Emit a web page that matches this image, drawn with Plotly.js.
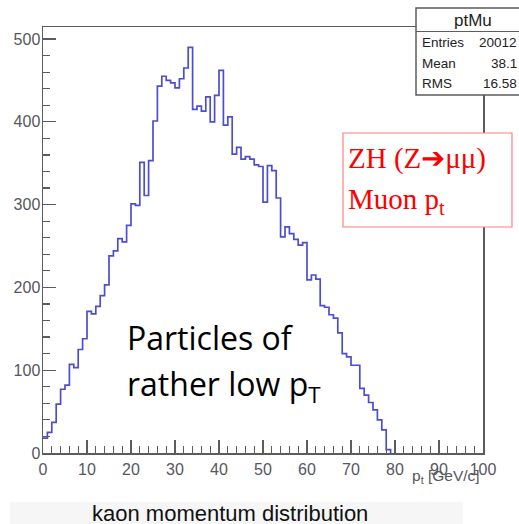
<!DOCTYPE html>
<html>
<head>
<meta charset="utf-8">
<script src="https://cdn.plot.ly/plotly-3.0.1.min.js"></script>
<style>
  html, body { margin: 0; padding: 0; background: #ffffff; }
  #chart { width: 519px; height: 524px; }
</style>
</head>
<body>
<div id="chart"></div>
<script>
// Muon transverse momentum histogram, 1 GeV/c bins (low edges) and counts
const binLowEdges = [
   0,  1,  2,  3,  4,  5,  6,  7,  8,  9,
  10, 11, 12, 13, 14, 15, 16, 17, 18, 19,
  20, 21, 22, 23, 24, 25, 26, 27, 28, 29,
  30, 31, 32, 33, 34, 35, 36, 37, 38, 39,
  40, 41, 42, 43, 44, 45, 46, 47, 48, 49,
  50, 51, 52, 53, 54, 55, 56, 57, 58, 59,
  60, 61, 62, 63, 64, 65, 66, 67, 68, 69,
  70, 71, 72, 73, 74, 75, 76, 77, 78, 79
];
const binCounts = [
   18,  25,  37,  59,  77,  82, 107, 103, 125, 138,
  171, 168, 177, 190, 203, 238, 244, 259, 255, 275,
  301, 299, 351, 311, 353, 401, 443, 455, 450, 447,
  441, 452, 465, 490, 415, 419, 413, 430, 400, 432,
  462, 396, 406, 361, 369, 355, 358, 355, 348, 346,
  303, 347, 341, 308, 261, 273, 265, 258, 251, 254,
  209, 215, 210, 178, 176, 167, 163, 145, 120, 116,
  106, 106,  78,  70,  61,  52,  40,  28,   4,   0
];

// Statistics box
const statsTitle = 'ptMu';
const statsNames = ['Entries', 'Mean', 'RMS'];
const statsValues = ['20012', '38.1', '16.58'];

// Tick labels
const xTickVals = [0, 10, 20, 30, 40, 50, 60, 70, 80, 90, 100];
const yTickVals = [0, 100, 200, 300, 400, 500];

// Text on the figure
const xAxisTitle = 'p<sub>t</sub> [GeV/c]';
const boxLines = ['ZH (Z\u2794\u03bc\u03bc)', 'Muon p<sub>t</sub>'];
const noteLines = ['Particles of', 'rather low p<sub>T</sub>'];
const caption = 'kaon momentum distribution';

// plot frame in pixels
const W = 519, H = 524;
const L = 43, R = 483, T = 27, B = 453;
const px = x => (x - L) / (R - L);
const py = y => (B - y) / (B - T);

const frameColor = '#5c5c5c';
const tickFontColor = '#565660';
const sans = '"Liberation Sans", Arial, sans-serif';
const serif = '"Liberation Serif", "Times New Roman", serif';

const trace = {
  type: 'scatter',
  mode: 'lines',
  x: binLowEdges,
  y: binCounts,
  line: { shape: 'hv', color: '#4d4dcf', width: 1.7 },
  hoverinfo: 'skip',
  showlegend: false
};

const annotations = [];
// stats box texts
annotations.push({
  xref: 'paper', yref: 'paper', x: px(473), y: py(20),
  xanchor: 'center', yanchor: 'middle', showarrow: false,
  text: statsTitle, font: { family: sans, size: 17, color: '#222' }
});
const rowY = [43, 63, 83];
statsNames.forEach((name, i) => {
  annotations.push({
    xref: 'paper', yref: 'paper', x: px(420), y: py(rowY[i]),
    xanchor: 'left', yanchor: 'middle', showarrow: false,
    text: name, font: { family: sans, size: 13.5, color: '#222' }
  });
  annotations.push({
    xref: 'paper', yref: 'paper', x: px(519), y: py(rowY[i]),
    xanchor: 'right', yanchor: 'middle', showarrow: false,
    text: statsValues[i], font: { family: sans, size: 13.5, color: '#222' }
  });
});
// x axis title
annotations.push({
  xref: 'paper', yref: 'paper', x: px(482), y: py(476),
  xanchor: 'right', yanchor: 'middle', showarrow: false,
  text: xAxisTitle, font: { family: sans, size: 15.5, color: tickFontColor }
});
// red label box
[158, 201].forEach((yy, i) => {
  annotations.push({
    xref: 'paper', yref: 'paper', x: px(346), y: py(yy),
    xanchor: 'left', yanchor: 'middle', showarrow: false,
    text: boxLines[i], font: { family: serif, size: 29, color: '#ff0000' }
  });
});
// note in the plot
[337, 386].forEach((yy, i) => {
  annotations.push({
    xref: 'paper', yref: 'paper', x: px(125), y: py(yy),
    xanchor: 'left', yanchor: 'middle', showarrow: false,
    text: noteLines[i], font: { family: '"Open Sans", Lato, sans-serif', size: 32, color: '#000' }
  });
});
// caption under the plot
annotations.push({
  xref: 'paper', yref: 'paper', x: px(230), y: py(513),
  xanchor: 'center', yanchor: 'middle', showarrow: false,
  text: caption, font: { family: sans, size: 22, color: '#111' }
});

const shapes = [
  // light band behind the caption
  { type: 'rect', xref: 'paper', yref: 'paper', layer: 'below',
    x0: px(10), x1: px(463), y0: py(502), y1: py(526),
    line: { width: 0 }, fillcolor: '#f6f6f6' },
  // statistics box
  { type: 'rect', xref: 'paper', yref: 'paper', layer: 'above',
    x0: px(416), x1: px(532), y0: py(8), y1: py(95),
    line: { color: frameColor, width: 1.5 }, fillcolor: '#ffffff' },
  { type: 'line', xref: 'paper', yref: 'paper', layer: 'above',
    x0: px(416), x1: px(532), y0: py(31.5), y1: py(31.5),
    line: { color: frameColor, width: 1.2 } },
  // red label box
  { type: 'rect', xref: 'paper', yref: 'paper', layer: 'above',
    x0: px(343), x1: px(512), y0: py(133), y1: py(227),
    line: { color: '#ff8080', width: 1.2 }, fillcolor: '#ffffff' }
];

const layout = {
  width: W, height: H,
  margin: { l: L, r: W - R, t: T, b: H - B, pad: 0 },
  paper_bgcolor: '#ffffff',
  plot_bgcolor: '#ffffff',
  showlegend: false,
  xaxis: {
    range: [0, 100], fixedrange: true,
    showgrid: false, zeroline: false,
    showline: true, mirror: true, linecolor: frameColor, linewidth: 1.5,
    tickmode: 'array', tickvals: xTickVals, ticktext: xTickVals.map(String),
    ticks: 'inside', ticklen: 13, tickwidth: 1.3, tickcolor: frameColor,
    minor: { dtick: 2, ticks: 'inside', ticklen: 7, tickwidth: 1.2, tickcolor: frameColor },
    tickfont: { family: sans, size: 16, color: tickFontColor },
    ticklabelstandoff: 1
  },
  yaxis: {
    range: [0, 514.5], fixedrange: true,
    showgrid: false, zeroline: false,
    showline: true, mirror: true, linecolor: frameColor, linewidth: 1.5,
    tickmode: 'array', tickvals: yTickVals, ticktext: yTickVals.map(String),
    ticks: 'inside', ticklen: 13, tickwidth: 1.3, tickcolor: frameColor,
    minor: { dtick: 20, ticks: 'inside', ticklen: 7, tickwidth: 1.2, tickcolor: frameColor },
    tickfont: { family: sans, size: 16, color: tickFontColor },
    ticklabelstandoff: -2
  },
  shapes: shapes,
  annotations: annotations
};

Plotly.newPlot('chart', [trace], layout, { staticPlot: true, displayModeBar: false });
</script>
</body>
</html>
